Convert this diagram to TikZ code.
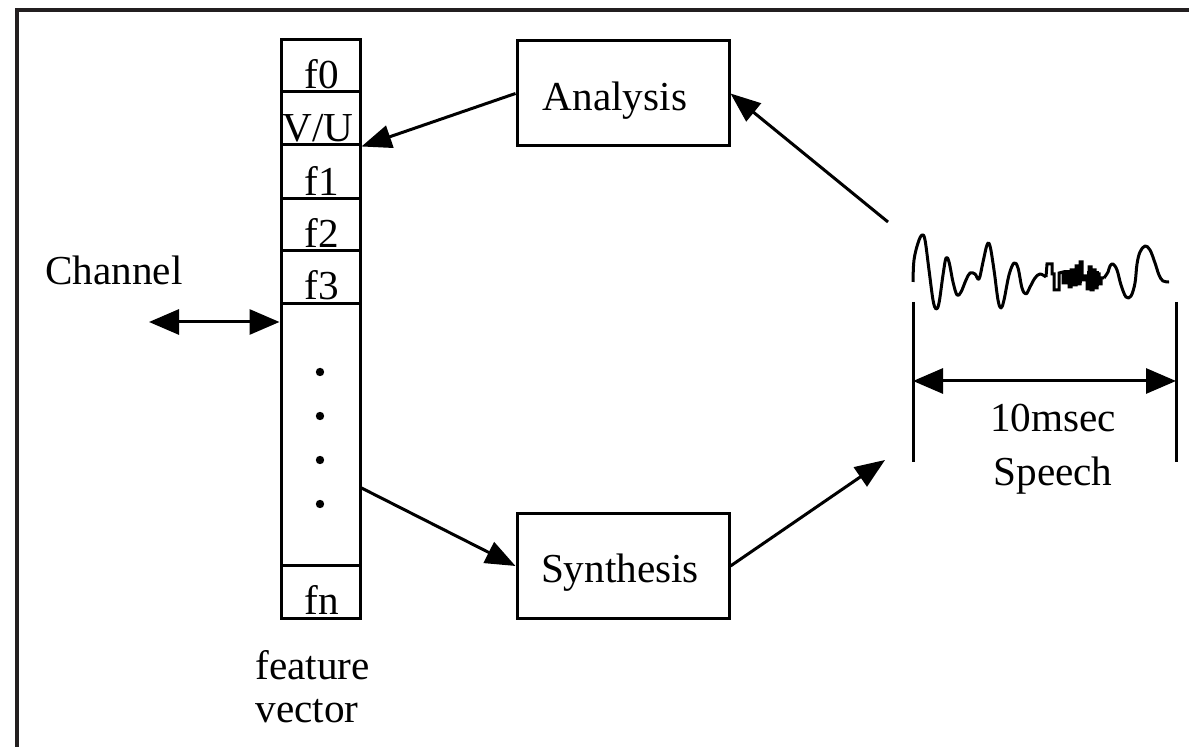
\documentclass[tikz,border=0pt]{standalone}
\usepackage{fontspec}
\setmainfont{Liberation Serif}
\usetikzlibrary{arrows.meta}
\tikzset{
  ln/.style={line width=1.5pt},
  arr/.style={ln, -{Triangle[length=15pt,width=11.5pt]}},
  darr/.style={ln, {Triangle[length=15pt,width=12.5pt]}-{Triangle[length=15pt,width=12.5pt]}},
  txt/.style={font=\fontsize{20.6}{24}\selectfont, inner sep=0pt},
  box/.style={draw, ln, inner sep=0pt, minimum width=106pt, minimum height=52.5pt},
  cell/.style={draw, ln, inner sep=0pt, minimum width=39.5pt},
  brd/.style={line width=2pt, draw={rgb,255:red,35;green,31;blue,32}},
}
\begin{document}
\begin{tikzpicture}[x=0.5pt,y=-0.5pt]
\useasboundingbox (0,0) rectangle (1189,747);
% frame
\draw[brd] (17,747) -- (17,10) -- (1189,10);
% feature vector cells
\node[cell, minimum height=26pt]   (c0) at (320.5,66) {};
\node[cell, minimum height=26.5pt] (c1) at (320.5,118.5) {};
\node[cell, minimum height=27pt]   (c2) at (320.5,172) {};
\node[cell, minimum height=26pt]   (c3) at (320.5,225) {};
\node[cell, minimum height=26.5pt] (c4) at (320.5,277.5) {};
\node[cell, minimum height=131pt]  (cd) at (320.5,435) {};
\node[cell, minimum height=26.5pt] (cn) at (320.5,592.5) {};
\node[txt, anchor=base] (t0) at (322,89) {f0};
\node[txt, anchor=base] (t1) at (318,142) {V/U};
\node[txt, anchor=base] (t2) at (322,196) {f1};
\node[txt, anchor=base] (t3) at (322,248) {f2};
\node[txt, anchor=base] (t4) at (322,300) {f3};
\node[txt, anchor=base] (tn) at (322,615) {fn};
\foreach \y/\n in {372/d1,416/d2,460/d3,504/d4}
  \fill (320,\y) circle (2.1pt);
\node[txt, anchor=base west] (fv1) at (255,680) {feature};
\node[txt, anchor=base west] (fv2) at (255,723) {vector};
% boxes
\node[box] (an) at (623,93.5) {};
\node[txt, anchor=base] (ant) at (615,111) {Analysis};
\node[box] (sy) at (623,566) {};
\node[txt, anchor=base] (syt) at (620,583) {Synthesis};
% channel
\node[txt, anchor=base west] (chl) at (45,285) {Channel};
\coordinate (ch) at (149,322);
\draw[darr] (ch) -- (ch -| cd.west);
% arrows
\coordinate (sp1) at (888,222);
\coordinate (sp2) at (885,460);
\draw[arr] (an.west) -- (c1.south east);
\draw[arr] (sp1) -- (an.east);
\draw[arr] (cd.east |- 0,488) -- (sy.west);
\draw[arr] (sy.east) -- (sp2);
% speech dimension
\coordinate (vl1) at (913,302);
\coordinate (vl2) at (1176,302);
\draw[ln] (vl1) -- (913,462);
\draw[ln] (vl2) -- (1176,462);
\draw[darr] (vl1 |- 0,381) -- (vl2 |- 0,381);
\node[txt, anchor=base] (ms) at (1053,432) {10msec};
\node[txt, anchor=base] (spc) at (1053,486) {Speech};
% waveform
\draw[ln, line join=round] plot[smooth, tension=0.6] coordinates {
 (913,282) (914,260) (918,243) (922,235) (925,240) (929,270) (933,300) (936,309)
 (939,303) (943,275) (946,258) (949,262) (953,282) (957,295) (961,292) (966,280)
 (970,273) (975,274) (979,279) (983,262) (987,245) (990,246) (994,270) (998,300)
 (1001,308) (1004,300) (1009,275) (1014,263) (1018,268) (1022,288) (1026,294)
 (1030,287) (1035,278) (1040,274) (1046,277)};
\draw[ln, line join=miter] (1046,277) -- (1047,264) -- (1052,264) -- (1052,274)
 -- (1054,274) -- (1054,290) -- (1059,290) -- (1059,273) -- (1063,272) -- (1063,283)
 -- (1066,283) -- (1066,274) -- (1069,274) -- (1069,287) -- (1071,287) -- (1071,270)
 -- (1074,270) -- (1074,285) -- (1076,285) -- (1076,266) -- (1078,266) -- (1078,284)
 -- (1080,284) -- (1080,262) -- (1082,262) -- (1082,280) -- (1085,280) -- (1085,276)
 -- (1087,276) -- (1087,289) -- (1089,289) -- (1089,267) -- (1091,267) -- (1091,290)
 -- (1093,290) -- (1093,270) -- (1095,270) -- (1095,288) -- (1097,288) -- (1097,274)
 -- (1099,274) -- (1099,284) -- (1101,284) -- (1101,278) -- (1104,278);
\fill (1064,270) rectangle (1082,283);
\fill (1087,271) rectangle (1099,286);
\draw[ln, line join=round] plot[smooth, tension=0.6] coordinates {
 (1104,278) (1108,272) (1110,266) (1113,264) (1117,270) (1121,285) (1126,297)
 (1131,296) (1135,283) (1137,264) (1140,252) (1145,246) (1150,250) (1155,263)
 (1159,275) (1163,281) (1169,282)};
\end{tikzpicture}
\end{document}
